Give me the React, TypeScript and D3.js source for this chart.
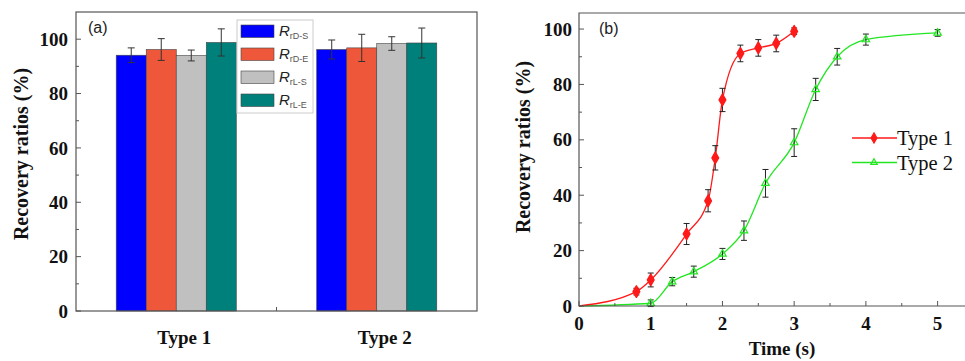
import React, { useEffect, useRef } from "react";
import * as d3 from "d3";

// panel (a) data
const categories = ["Type 1", "Type 2"];
const seriesKeys = ["rD-S", "rD-E", "rL-S", "rL-E"];
const seriesColors = ["#0000ff", "#ef573a", "#c0c0c0", "#00807a"];
const type1Values = [94.1, 96.2, 94.0, 98.8];
const type1Errors = [2.7, 4.0, 2.0, 5.0];
const type2Values = [96.2, 96.8, 98.4, 98.6];
const type2Errors = [3.5, 5.0, 2.5, 5.5];

// panel (b) data
const t1Time = [0, 0.8, 1.0, 1.5, 1.8, 1.9, 2.0, 2.25, 2.5, 2.75, 3.0];
const t1Ratio = [0, 5.2, 9.4, 26, 38, 53.5, 74.4, 91.2, 93.2, 94.8, 99.2];
const t1Err = [0, 1.2, 2.5, 3.8, 4.0, 4.4, 4.2, 3.0, 3.0, 3.0, 1.2];
const t2Time = [0, 1.0, 1.3, 1.6, 2.0, 2.3, 2.6, 3.0, 3.3, 3.6, 4.0, 5.0];
const t2Ratio = [0, 1.0, 8.8, 12.4, 18.8, 27.2, 44.3, 59, 78.2, 90, 96.2, 98.6];
const t2Err = [0, 1.2, 1.5, 2.0, 2.0, 3.5, 5.0, 5.0, 4.0, 3.0, 2.0, 1.2];

const W = 965;
const H = 361;
const serif = "'Liberation Serif', 'Times New Roman', serif";
const sans = "'Liberation Sans', Arial, sans-serif";

const App = () => {
  const svgRef = useRef<SVGSVGElement>(null);

  useEffect(() => {
    const svg = d3.select(svgRef.current);
    svg.selectAll("*").remove();

    // ---------- panel (a) ----------
    const a = { left: 76, right: 477, top: 12, bottom: 311 };
    const xa = d3.scaleBand().domain(categories).range([a.left, a.right]);
    const xs = d3
      .scaleBand()
      .domain(seriesKeys)
      .range([0, xa.bandwidth()])
      .paddingOuter(1.34)
      .paddingInner(0);
    const ya = d3.scaleLinear().domain([0, 110]).range([a.bottom, a.top]);

    const ga = svg.append("g");
    const groups = [
      { cat: "Type 1", vals: type1Values, errs: type1Errors },
      { cat: "Type 2", vals: type2Values, errs: type2Errors },
    ];
    groups.forEach((g) => {
      seriesKeys.forEach((k, i) => {
        const x0 = (xa(g.cat) as number) + (xs(k) as number);
        ga.append("rect")
          .attr("x", x0)
          .attr("y", ya(g.vals[i]))
          .attr("width", xs.bandwidth())
          .attr("height", ya(0) - ya(g.vals[i]))
          .attr("fill", seriesColors[i])
          .attr("stroke", "#444")
          .attr("stroke-width", 0.6);
        const cx = x0 + xs.bandwidth() / 2;
        const hi = ya(g.vals[i] + g.errs[i]);
        const lo = ya(g.vals[i] - g.errs[i]);
        ga.append("line").attr("x1", cx).attr("x2", cx).attr("y1", hi).attr("y2", lo)
          .attr("stroke", "#333").attr("stroke-width", 1);
        [hi, lo].forEach((yy) =>
          ga.append("line").attr("x1", cx - 3.5).attr("x2", cx + 3.5).attr("y1", yy).attr("y2", yy)
            .attr("stroke", "#333").attr("stroke-width", 1)
        );
      });
    });

    // frame a
    ga.append("rect")
      .attr("x", a.left).attr("y", a.top)
      .attr("width", a.right - a.left).attr("height", a.bottom - a.top)
      .attr("fill", "none").attr("stroke", "#555").attr("stroke-width", 1.2);

    // y ticks a
    d3.range(0, 101, 10).forEach((v) => {
      const major = v % 20 === 0;
      ga.append("line").attr("x1", a.left).attr("x2", a.left + (major ? 5 : 3))
        .attr("y1", ya(v)).attr("y2", ya(v)).attr("stroke", "#555");
      if (major)
        ga.append("text").attr("x", a.left - 8).attr("y", ya(v)).attr("dy", "0.35em")
          .attr("text-anchor", "end").attr("font-family", serif).attr("font-weight", "bold")
          .attr("font-size", 19).attr("fill", "#111").text(v);
    });
    // x tick between groups
    ga.append("line").attr("x1", xa("Type 2") as number).attr("x2", xa("Type 2") as number)
      .attr("y1", a.bottom).attr("y2", a.bottom - 4).attr("stroke", "#555");
    categories.forEach((c) => {
      ga.append("text").attr("x", (xa(c) as number) + xa.bandwidth() / 2 + 8).attr("y", 337)
        .attr("dy", "0.35em").attr("text-anchor", "middle").attr("font-family", serif)
        .attr("font-weight", "bold").attr("font-size", 19).attr("fill", "#111").text(c);
    });
    ga.append("text")
      .attr("transform", `translate(21,154) rotate(-90)`)
      .attr("dy", "0.35em").attr("text-anchor", "middle").attr("font-family", serif)
      .attr("font-weight", "bold").attr("font-size", 20).attr("fill", "#111")
      .text("Recovery ratios (%)");
    ga.append("text").attr("x", 88).attr("y", 33).attr("font-family", sans)
      .attr("font-size", 16).attr("fill", "#222").text("(a)");

    // legend a
    const lg = ga.append("g").attr("transform", "translate(237,20)");
    lg.append("rect").attr("width", 76).attr("height", 93).attr("fill", "#fff")
      .attr("stroke", "#ccc").attr("stroke-width", 1);
    seriesKeys.forEach((k, i) => {
      const yy = 5 + i * 23;
      lg.append("rect").attr("x", 4).attr("y", yy).attr("width", 33).attr("height", 12.5)
        .attr("fill", seriesColors[i]).attr("stroke", "#444").attr("stroke-width", 0.6);
      const t = lg.append("text").attr("x", 42).attr("y", yy + 11).attr("font-family", sans)
        .attr("fill", "#222");
      t.append("tspan").attr("font-style", "italic").attr("font-size", 15).text("R");
      t.append("tspan").attr("font-size", 9).attr("dy", 3).attr("fill", "#555").text(k);
    });

    // ---------- panel (b) ----------
    const b = { left: 579, right: 962, top: 13, bottom: 306 };
    const xb = d3.scaleLinear().domain([0, 5.34]).range([b.left, b.right]);
    const yb = d3.scaleLinear().domain([0, 105.8]).range([b.bottom, b.top]);
    const gb = svg.append("g");

    const lineGen = d3
      .line<[number, number]>()
      .x((d) => xb(d[0]))
      .y((d) => yb(d[1]))
      .curve(d3.curveMonotoneX);

    const drawSeries = (
      times: number[],
      ratios: number[],
      errs: number[],
      color: string,
      marker: "diamond" | "triangle"
    ) => {
      const pts = times.map((t, i) => [t, ratios[i]] as [number, number]);
      gb.append("path").attr("d", lineGen(pts)).attr("fill", "none")
        .attr("stroke", color).attr("stroke-width", 1.3);
      pts.forEach((p, i) => {
        if (i === 0) return;
        const cx = xb(p[0]);
        const hi = yb(p[1] + errs[i]);
        const lo = yb(p[1] - errs[i]);
        gb.append("line").attr("x1", cx).attr("x2", cx).attr("y1", hi).attr("y2", lo)
          .attr("stroke", "#222").attr("stroke-width", 1);
        [hi, lo].forEach((yy) =>
          gb.append("line").attr("x1", cx - 3).attr("x2", cx + 3).attr("y1", yy).attr("y2", yy)
            .attr("stroke", "#222").attr("stroke-width", 1)
        );
      });
      pts.forEach((p, i) => {
        if (i === 0) return;
        if (marker === "diamond") {
          gb.append("path")
            .attr("d", d3.symbol(d3.symbolDiamond, 38)())
            .attr("transform", `translate(${xb(p[0])},${yb(p[1])})`)
            .attr("fill", color).attr("stroke", color).attr("stroke-width", 1.5)
            .attr("stroke-linejoin", "round");
        } else {
          gb.append("path")
            .attr("d", d3.symbol(d3.symbolTriangle, 24)())
            .attr("transform", `translate(${xb(p[0])},${yb(p[1])})`)
            .attr("fill", "none").attr("stroke", color).attr("stroke-width", 1.2);
        }
      });
    };
    drawSeries(t2Time, t2Ratio, t2Err, "#22e622", "triangle");
    drawSeries(t1Time, t1Ratio, t1Err, "#ff1a1a", "diamond");

    // frame b (right side runs off the image)
    gb.append("path")
      .attr("d", `M${W + 2},${b.top}H${b.left}V${b.bottom}H${W + 2}`)
      .attr("fill", "none").attr("stroke", "#555").attr("stroke-width", 1.2);

    d3.range(0, 101, 10).forEach((v) => {
      const major = v % 20 === 0;
      gb.append("line").attr("x1", b.left).attr("x2", b.left + (major ? 5 : 3))
        .attr("y1", yb(v)).attr("y2", yb(v)).attr("stroke", "#555");
      if (major)
        gb.append("text").attr("x", b.left - 7).attr("y", yb(v)).attr("dy", "0.35em")
          .attr("text-anchor", "end").attr("font-family", serif).attr("font-weight", "bold")
          .attr("font-size", 19).attr("fill", "#111").text(v);
    });
    d3.range(0, 5.01, 0.5).forEach((v) => {
      const major = Math.abs(v - Math.round(v)) < 1e-6;
      gb.append("line").attr("x1", xb(v)).attr("x2", xb(v))
        .attr("y1", b.bottom).attr("y2", b.bottom - (major ? 5 : 3)).attr("stroke", "#555");
      if (major)
        gb.append("text").attr("x", xb(v)).attr("y", 323).attr("dy", "0.35em")
          .attr("text-anchor", "middle").attr("font-family", serif).attr("font-weight", "bold")
          .attr("font-size", 19).attr("fill", "#111").text(v);
    });
    gb.append("text").attr("x", 782).attr("y", 348).attr("dy", "0.35em")
      .attr("text-anchor", "middle").attr("font-family", serif).attr("font-weight", "bold")
      .attr("font-size", 19).attr("fill", "#111").text("Time (s)");
    gb.append("text")
      .attr("transform", `translate(523,147) rotate(-90)`)
      .attr("dy", "0.35em").attr("text-anchor", "middle").attr("font-family", serif)
      .attr("font-weight", "bold").attr("font-size", 20).attr("fill", "#111")
      .text("Recovery ratios (%)");
    gb.append("text").attr("x", 599).attr("y", 34).attr("font-family", sans)
      .attr("font-size", 16).attr("fill", "#222").text("(b)");

    // legend b
    const legendB = [
      { label: "Type 1", color: "#ff1a1a", marker: "diamond" },
      { label: "Type 2", color: "#22e622", marker: "triangle" },
    ];
    legendB.forEach((d, i) => {
      const yy = 138 + i * 24.5;
      gb.append("line").attr("x1", 852).attr("x2", 897).attr("y1", yy).attr("y2", yy)
        .attr("stroke", d.color).attr("stroke-width", 1.3);
      gb.append("path")
        .attr("d", d3.symbol(d.marker === "diamond" ? d3.symbolDiamond : d3.symbolTriangle,
          d.marker === "diamond" ? 30 : 18)())
        .attr("transform", `translate(874,${yy})`)
        .attr("fill", d.marker === "diamond" ? d.color : "none")
        .attr("stroke", d.color).attr("stroke-width", 1.2);
      gb.append("text").attr("x", 897).attr("y", yy).attr("dy", "0.35em")
        .attr("font-family", serif).attr("font-size", 20.5).attr("fill", "#111").text(d.label);
    });
  }, []);

  return (
    <svg
      ref={svgRef}
      width={W}
      height={H}
      style={{ position: "absolute", left: 0, top: 0, background: "#fff" }}
    />
  );
};

export default App;
